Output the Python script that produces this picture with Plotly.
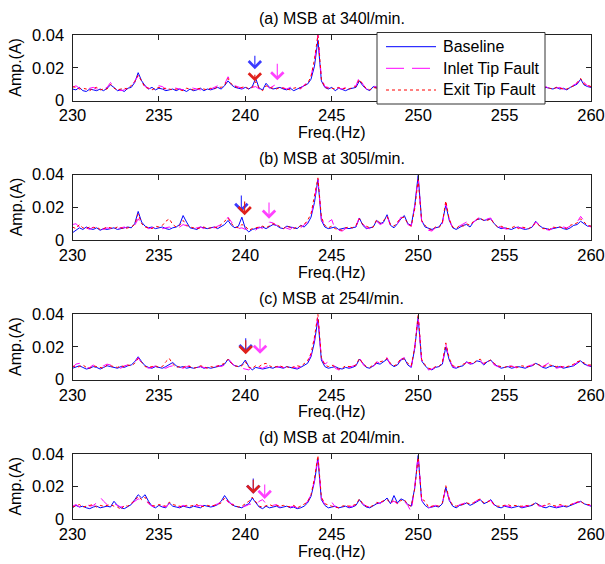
import numpy as np
import plotly.graph_objects as go

# ---------------- data (amplitudes in units of 1e-4 A, 0.2 Hz spacing, 230-260 Hz) -------------
freq = np.round(np.arange(230.0, 260.0001, 0.2), 1)
series_names = ["Baseline", "Inlet Tip Fault", "Exit Tip Fault"]
titles = ["(a) MSB at 340l/min.", "(b) MSB at 305l/min.", "(c) MSB at 254l/min.", "(d) MSB at 204l/min."]
x_ticks = [230, 235, 240, 245, 250, 255, 260]
y_ticks = [0, 0.02, 0.04]
y_tick_text = ["0", "0.02", "0.04"]

a_base = [70,65,80,60,55,70,65,60,70,60, 75,95,80,60,65,55,75,80,110,170, 120,90,70,80,65,75,70,60,65,70,
          60,70,65,55,70,60,65,75,60,70, 65,75,80,70,90,120,95,80,75,70, 80,70,85,135,75,65,105,80,70,75,
          80,70,65,75,60,70,80,90,100,130, 210,370,120,80,70,80,60,75,65,60, 70,75,80,120,90,70,60,85,75,70,
          70,80,90,75,70,100,110,80,90,120, 300,150,80,70,75,65,70,90,180,110, 75,70,80,95,85,70,75,80,70,65,
          100,110,85,70,75,70,65,80,70,75, 70,65,75,80,100,75,70,80,75,70, 80,70,75,65,80,90,100,130,95,85, 80]
a_inlet = [80,90,75,70,65,75,80,70,65,75, 80,110,85,70,60,65,80,85,120,150, 110,85,75,70,80,90,85,70,75,80,
           75,70,65,70,80,75,70,65,75,80, 70,80,90,85,100,145,110,90,80,75, 70,75,80,85,70,80,95,75,90,100,
           85,75,70,80,85,75,70,95,110,150, 240,400,140,85,80,70,85,75,70,80, 75,85,90,145,100,70,65,90,80,75,
           75,80,85,95,80,90,120,85,95,130, 330,160,85,75,70,80,75,95,200,120, 80,75,85,100,90,75,80,85,75,70,
           110,120,90,75,80,70,75,85,75,80, 75,70,80,85,110,80,75,85,70,65, 75,80,70,60,75,95,105,140,110,90, 85]
a_exit = [85,80,70,75,70,60,75,80,65,70, 70,100,75,65,70,75,70,90,115,155, 115,80,75,65,75,80,70,75,70,65,
          70,65,60,75,70,65,70,75,70,65, 75,70,85,80,95,135,100,85,75,80, 85,70,80,115,75,60,90,80,75,70,
          80,75,70,65,75,80,75,90,105,145, 250,400,130,80,75,75,70,80,70,75, 70,80,85,130,95,75,65,80,75,70,
          80,75,90,85,75,95,115,80,90,125, 310,150,80,75,70,75,80,90,190,115, 80,70,80,100,85,70,80,85,75,70,
          105,115,90,70,75,75,70,80,75,80, 75,70,75,85,105,80,70,80,75,70, 80,75,70,70,80,90,110,135,100,90, 85]

b_base = [45,60,75,65,80,70,65,75,60,70, 65,70,75,65,70,75,80,75,100,175, 110,85,75,80,70,75,80,70,65,75,
          80,95,150,110,75,70,65,80,75,70, 75,80,70,85,95,120,90,75,85,140, 70,50,65,70,75,80,70,85,95,90,
          75,70,85,80,75,70,90,80,100,140, 230,370,120,80,70,75,80,65,70,75, 70,75,80,135,90,70,75,80,120,100,
          110,155,90,75,100,130,150,100,90,210, 395,120,80,70,65,75,80,110,215,120, 75,65,80,90,95,80,110,125,130,120,
          125,130,100,80,70,75,70,65,75,80, 70,65,70,80,115,90,75,70,65,70, 75,80,70,65,75,90,95,115,100,85, 85]
b_inlet = [95,100,80,100,75,65,80,70,75,65, 75,70,80,70,75,80,70,75,90,130, 95,80,70,75,80,85,70,75,80,70,
           75,80,95,85,75,70,75,80,70,75, 80,75,85,90,105,140,110,80,70,75, 65,70,75,60,80,70,85,110,105,90,
           75,80,70,65,85,70,75,90,110,150, 250,375,130,85,110,125,65,60,55,70, 75,80,85,140,100,75,70,85,115,95,
           105,150,85,80,100,140,135,95,85,200, 380,115,80,60,55,75,70,100,225,130, 70,75,85,95,110,85,110,130,140,115,
           130,135,95,85,75,70,65,70,80,75, 75,70,65,80,110,95,75,65,60,75, 70,65,80,75,85,95,110,145,120,90, 80]
b_exit = [80,70,95,75,70,80,75,80,65,70, 80,75,70,80,75,70,75,80,95,160, 100,80,75,70,85,80,90,115,130,95,
          80,90,120,90,80,75,70,75,80,70, 75,80,75,95,110,135,100,80,75,95, 85,60,70,75,80,85,75,90,100,95,
          80,70,85,75,70,80,85,95,120,160, 260,380,140,90,75,85,70,65,60,75, 80,75,90,130,95,85,75,80,125,105,
          120,145,95,85,110,135,140,100,85,190, 370,120,90,70,60,80,75,105,240,125, 80,70,90,85,100,90,115,125,135,120,
          120,130,100,80,85,75,70,75,85,70, 80,75,70,85,105,90,70,70,65,80, 75,80,75,70,90,100,105,130,110,90, 85]

c_base = [70,80,85,75,65,70,80,75,65,75, 85,80,75,70,80,75,85,90,110,140, 110,85,75,70,80,75,70,80,90,105,
          85,75,80,70,75,70,75,80,70,75, 70,75,80,85,95,125,100,85,80,90, 120,80,60,75,70,65,70,75,70,80,
          75,70,80,75,70,65,75,85,100,140, 230,370,120,80,70,75,80,70,65,75, 70,75,85,125,100,75,70,85,100,95,
          110,125,95,80,90,120,130,90,75,190, 380,115,85,65,60,75,80,95,200,120, 75,70,80,85,110,95,100,115,110,90,
          110,120,95,80,70,75,80,70,75,80, 75,70,80,85,100,90,75,70,80,85, 75,80,70,75,80,85,100,115,95,85, 80]
c_inlet = [75,95,100,80,70,75,90,70,80,85, 95,90,80,75,70,85,90,95,105,135, 100,80,70,75,85,80,75,70,80,85,
           80,75,70,80,85,75,70,80,75,70, 75,80,85,80,90,130,105,80,75,70, 65,60,80,85,75,70,80,90,85,75,
           80,75,70,85,75,70,80,90,110,150, 250,390,130,95,110,115,70,60,65,80, 75,85,90,135,95,70,75,80,110,100,
           120,135,90,85,100,125,135,95,80,200, 390,120,80,60,65,75,85,100,215,125, 80,75,85,90,105,100,95,120,115,95,
           115,125,90,80,75,70,80,85,75,70, 80,75,85,90,105,85,80,95,105,80, 70,75,80,85,75,90,105,120,100,85, 85]
c_exit = [85,75,80,90,75,70,85,80,75,70, 90,85,80,75,85,80,90,85,100,130, 105,80,75,80,85,75,80,110,130,95,
          75,80,75,85,80,70,75,85,80,70, 80,75,85,90,100,125,100,85,80,85, 110,75,70,85,80,95,100,85,75,80,
          85,75,80,70,80,85,80,95,115,160, 260,400,135,90,80,90,75,65,70,85, 80,80,90,130,100,80,75,90,105,110,
          115,130,100,85,95,130,125,100,85,195, 400,125,90,70,65,80,80,105,225,130, 85,80,80,95,100,105,100,120,125,100,
          110,120,100,85,80,75,85,80,80,75, 85,80,80,85,100,90,80,85,90,85, 80,85,75,80,85,95,110,115,105,90, 90]

d_base = [70,85,75,80,70,65,75,80,70,75, 80,75,110,85,70,65,80,90,120,150, 130,150,110,80,70,85,75,70,100,80,
          75,70,80,75,70,80,75,70,85,80, 75,80,90,110,145,115,90,80,75,70, 85,95,130,100,75,65,80,70,75,80,
          70,75,80,70,75,65,70,80,100,140, 230,370,120,85,70,75,80,70,75,80, 70,75,85,120,90,75,70,85,95,100,
          110,130,95,145,100,125,115,90,80,190, 390,115,85,70,75,80,75,95,195,115, 80,70,85,90,100,85,95,110,120,95,
          105,120,90,75,70,80,75,70,75,80, 70,75,80,85,100,85,75,70,80,75, 70,75,80,75,85,90,100,110,95,85, 80]
d_inlet = [80,90,75,85,95,80,85,100,135,110, 90,80,95,85,75,80,85,95,110,125, 115,120,95,80,75,90,80,75,95,85,
           80,75,85,80,75,90,80,85,80,75, 80,85,95,105,130,105,95,85,80,75, 80,90,95,85,110,120,95,80,85,90,
           75,80,85,75,80,70,75,85,110,150, 240,385,130,90,110,105,75,70,80,85, 75,80,90,115,95,80,75,90,105,95,
           115,125,100,110,95,120,110,85,45,200, 395,120,80,70,80,85,80,100,190,120, 85,75,90,95,105,90,100,115,120,100,
           110,115,85,80,75,85,80,75,80,85, 75,80,85,90,95,80,80,85,90,80, 75,80,85,80,90,95,105,105,90,85, 85]
d_exit = [75,85,90,75,80,85,90,75,85,80, 85,90,80,75,60,85,80,95,115,140, 120,135,100,85,80,90,85,80,105,90,
          85,80,75,85,80,85,90,75,80,85, 80,85,90,100,130,110,90,85,75,80, 95,110,135,105,80,75,85,90,80,85,
          80,85,80,75,85,70,80,90,105,150, 250,390,135,95,85,80,75,70,80,85, 80,85,90,125,95,80,75,85,100,105,
          115,120,100,120,95,115,120,90,80,185, 380,125,110,75,80,85,80,100,205,125, 85,80,85,95,100,95,100,115,125,100,
          105,115,90,80,80,85,90,80,85,80, 80,85,80,90,100,85,80,90,95,85, 80,90,85,80,90,95,105,110,95,90, 90]

panels = [(a_base, a_inlet, a_exit), (b_base, b_inlet, b_exit),
          (c_base, c_inlet, c_exit), (d_base, d_inlet, d_exit)]

# arrows: (panel, freq, tail amplitude, head amplitude, colour key)
arrows = [
    (0, 240.55, 0.0283, 0.0191, "blue"), (0, 240.55, 0.0166, 0.0117, "red"), (0, 241.85, 0.0234, 0.0123, "magenta"),
    (1, 239.77, 0.0282, 0.0172, "blue"), (1, 239.96, 0.0245, 0.0152, "red"), (1, 241.37, 0.0239, 0.0131, "magenta"),
    (2, 240.02, 0.0262, 0.0162, "blue"), (2, 240.02, 0.0250, 0.0155, "red"), (2, 240.85, 0.0260, 0.0158, "magenta"),
    (3, 240.46, 0.0259, 0.0156, "blue"), (3, 240.46, 0.0250, 0.0156, "red"), (3, 241.12, 0.0222, 0.0124, "magenta"),
]

# ---------------- styling / layout ----------------
W, H = 605, 564
FONT = "Liberation Sans, Arial, sans-serif"
colors = {"blue": "#0000FF", "magenta": "#FF00FF", "red": "#FF0000"}
arrow_colors = {"blue": "#3A3AFF", "magenta": "#FF40FF", "red": "#E0201A"}
styles = [dict(color=colors["blue"], width=1, dash="solid"),
          dict(color=colors["magenta"], width=1, dash="dash"),
          dict(color=colors["red"], width=1, dash="dot")]
legend_dash = ["solid", "18px,8px", "3px,3px"]
AX = "#222222"

x_left, x_right = 72.5, 591.0
panel_tops = [35.0, 174.6, 314.2, 453.8]
panel_h = 65.5


def px(x):
    return x / W


def py(y):
    return 1 - y / H


fig = go.Figure()
layout = dict(width=W, height=H, margin=dict(l=0, r=0, t=0, b=0, autoexpand=False),
              paper_bgcolor="white", plot_bgcolor="white",
              font=dict(family=FONT, size=16, color="black"),
              showlegend=False)
annotations = []
shapes = []

for p, series in enumerate(panels):
    sfx = "" if p == 0 else str(p + 1)
    xa, ya = "x" + sfx, "y" + sfx
    for s, vals in enumerate(series):
        fig.add_trace(go.Scatter(
            x=freq, y=np.array(vals) / 1e4, mode="lines", name=series_names[s],
            line=styles[s], xaxis=xa, yaxis=ya))
    top = panel_tops[p]
    bot = top + panel_h
    layout["xaxis" + sfx] = dict(domain=[px(x_left), px(x_right)], range=[230, 260], anchor=ya,
                                 tickvals=x_ticks, ticks="inside", ticklen=5, tickcolor=AX,
                                 showline=True, linecolor=AX, linewidth=1, mirror="ticks",
                                 showgrid=False, zeroline=False, tickfont=dict(size=16.5),
                                 ticklabelstandoff=0)
    layout["yaxis" + sfx] = dict(domain=[py(bot), py(top)], range=[0, 0.04], anchor=xa,
                                 tickvals=y_ticks, ticktext=y_tick_text, ticks="inside", ticklen=5,
                                 tickcolor=AX, showline=True, linecolor=AX, linewidth=1,
                                 mirror="ticks", showgrid=False, zeroline=False, tickfont=dict(size=16.5),
                                 ticklabelstandoff=4)
    annotations.append(dict(text=titles[p], xref="paper", yref="paper",
                            x=px((x_left + x_right) / 2), y=py(top - 16),
                            showarrow=False, xanchor="center", yanchor="middle", font=dict(size=16)))
    annotations.append(dict(text="Freq.(Hz)", xref="paper", yref="paper",
                            x=px((x_left + x_right) / 2), y=py(bot + 32),
                            showarrow=False, xanchor="center", yanchor="middle", font=dict(size=16)))
    annotations.append(dict(text="Amp.(A)", xref="paper", yref="paper", textangle=-90,
                            x=px(16), y=py(top + panel_h / 2),
                            showarrow=False, xanchor="center", yanchor="middle", font=dict(size=16)))

for (p, f, tail, head, ck) in arrows:
    sfx = "" if p == 0 else str(p + 1)
    annotations.append(dict(x=f, y=head, ax=f, ay=tail, xref="x" + sfx, yref="y" + sfx,
                            axref="x" + sfx, ayref="y" + sfx, text="", showarrow=True,
                            arrowhead=4, arrowsize=2.0, arrowwidth=1.2, arrowcolor=arrow_colors[ck]))

# legend box (drawn over panel (a), as in the original figure)
leg_x0, leg_x1, leg_y0, leg_y1 = 377, 545, 32.5, 104
shapes.append(dict(type="rect", xref="paper", yref="paper", layer="above",
                   x0=px(leg_x0), x1=px(leg_x1), y0=py(leg_y1), y1=py(leg_y0),
                   fillcolor="white", line=dict(color="#333333", width=1)))
row_y = [46.7, 68.3, 90.0]
for s in range(3):
    shapes.append(dict(type="line", xref="paper", yref="paper", layer="above",
                       x0=px(386), x1=px(436), y0=py(row_y[s]), y1=py(row_y[s]),
                       line=dict(color=styles[s]["color"], width=1, dash=legend_dash[s])))
    annotations.append(dict(text=series_names[s], xref="paper", yref="paper",
                            x=px(441), y=py(row_y[s]), showarrow=False,
                            xanchor="left", yanchor="middle", font=dict(size=16)))

layout["annotations"] = annotations
layout["shapes"] = shapes
fig.update_layout(**layout)
fig.write_html("out.html")
